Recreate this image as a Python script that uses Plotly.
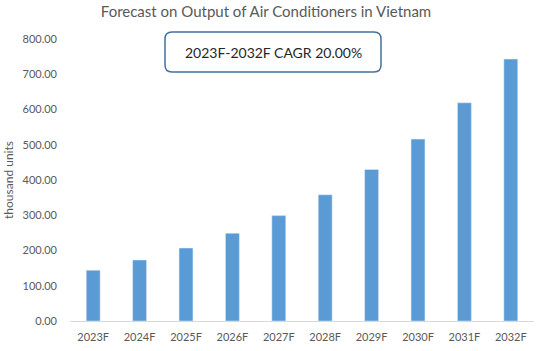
import plotly.graph_objects as go

years = ["2023F", "2024F", "2025F", "2026F", "2027F", "2028F", "2029F", "2030F", "2031F", "2032F"]
output = [144, 173, 207, 249, 299, 358, 430, 516, 619, 743]
tick_vals = [0, 100, 200, 300, 400, 500, 600, 700, 800]
tick_text = ["0.00", "100.00", "200.00", "300.00", "400.00", "500.00", "600.00", "700.00", "800.00"]

L, R, T, B = 70, 16, 39, 30
W, H = 550, 351
pw, ph = W - L - R, H - T - B

fig = go.Figure(go.Bar(x=years, y=output, marker_color="#5B9BD5", width=0.3))

def px_to_paper(x, y):
    return (x - L) / pw, (H - B - y) / ph

x0, y0 = 165, 32
x1, y1 = 381, 72
r = 7
rx, ry = r / pw, r / ph
ax0, ay0 = px_to_paper(x0, y0)
ax1, ay1 = px_to_paper(x1, y1)
path = (f"M {ax0+rx},{ay0} L {ax1-rx},{ay0} Q {ax1},{ay0} {ax1},{ay0-ry} "
        f"L {ax1},{ay1+ry} Q {ax1},{ay1} {ax1-rx},{ay1} "
        f"L {ax0+rx},{ay1} Q {ax0},{ay1} {ax0},{ay1+ry} "
        f"L {ax0},{ay0-ry} Q {ax0},{ay0} {ax0+rx},{ay0} Z")
fig.add_shape(type="path", path=path, xref="paper", yref="paper",
              line=dict(color="#41719C", width=1.5), fillcolor="white", layer="above")
fig.add_annotation(x=(ax0 + ax1) / 2, y=(ay0 + ay1) / 2, xref="paper", yref="paper",
                   xanchor="center", yanchor="middle",
                   text="2023F-2032F CAGR 20.00%", showarrow=False,
                   font=dict(size=14, color="#262626", family="Lato, sans-serif"))

fig.update_layout(
    width=W, height=H,
    margin=dict(l=L, r=R, t=T, b=B),
    paper_bgcolor="white", plot_bgcolor="white",
    font=dict(family="Lato, sans-serif", color="#595959"),
    title=dict(text="Forecast on Output of Air Conditioners in Vietnam", x=266 / W, xanchor="center",
               xref="container",
               y=1 - 12 / H, yanchor="middle", font=dict(size=15, color="#595959")),
    showlegend=False,
    bargap=0.7,
)
fig.update_xaxes(showline=True, linecolor="#D9D9D9", linewidth=1, ticks="", automargin=False,
                 tickfont=dict(size=11, color="#595959"), showgrid=False, ticklabelstandoff=6)
fig.update_yaxes(range=[0, 800], tickvals=tick_vals, ticktext=tick_text, showgrid=False,
                 zeroline=False, tickfont=dict(size=11, color="#595959"), ticklabelstandoff=12,
                 automargin=False,
                 title=dict(text="thousand units", font=dict(size=12, color="#595959"), standoff=6))

fig.write_html("out.html")
